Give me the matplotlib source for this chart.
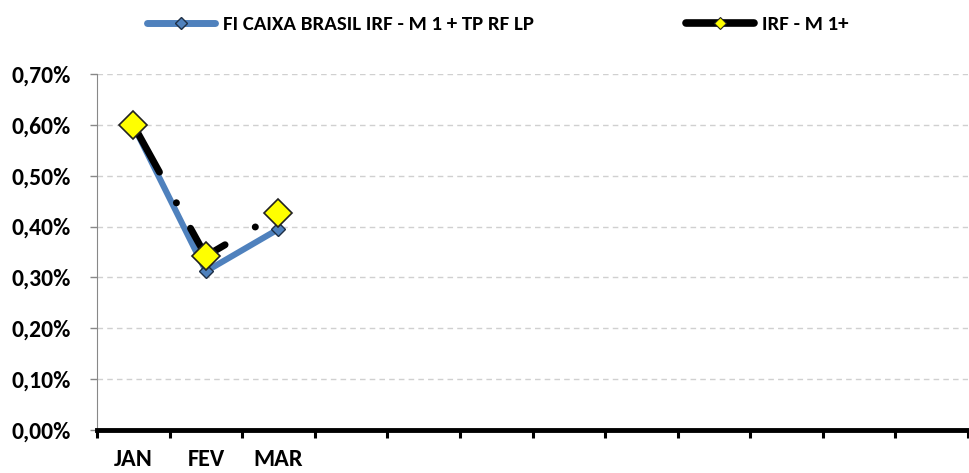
import matplotlib
matplotlib.use("Agg")
import matplotlib.pyplot as plt
from matplotlib.lines import Line2D
from matplotlib import font_manager
import numpy as np

_names = {f.name for f in font_manager.fontManager.ttflist}
_main = 'Carlito' if 'Carlito' in _names else 'Lato'
plt.rcParams['font.family'] = [_main, 'DejaVu Sans']
plt.rcParams['font.weight'] = 'bold'
plt.rcParams['lines.scale_dashes'] = False

months = ["JAN", "FEV", "MAR", "", "", "", "", "", "", "", "", ""]
fund_name = "FI CAIXA BRASIL IRF - M 1 + TP RF LP"
bench_name = "IRF - M 1+"
fund_values = [0.599, 0.312, 0.395]
bench_values = [0.600, 0.342, 0.426]
yticks = [0.0, 0.1, 0.2, 0.3, 0.4, 0.5, 0.6, 0.7]

fig = plt.figure(figsize=(9.70, 4.73), dpi=100)
ax = fig.add_axes([0.1, 0.0909, 0.898, 0.7527])

x_f = np.arange(len(fund_values))
x_b = np.arange(len(bench_values))

blue = "#4F81BD"
ax.plot(x_f, fund_values, color=blue, lw=4.4, solid_capstyle='round', solid_joinstyle='round', zorder=3)
ax.plot(x_f, fund_values, ls='none', marker='D', ms=7, mfc=blue, mec='#1f2f45', mew=1, zorder=4)

ax.plot(x_b, bench_values, color='black', lw=5, zorder=5,
        linestyle=(0, (38.9, 25.2, 0.1, 20.9)), dash_capstyle='round')
ax.plot(x_b, bench_values, ls='none', marker='D', ms=14, mfc='#FFFF00', mec='#222222', mew=1.2, zorder=6)

ax.set_xlim(-0.5, len(months) - 0.5)
ax.set_ylim(0, 0.7)
ax.set_yticks(yticks)
ax.set_yticklabels([f"{v:.2f}%".replace('.', ',') for v in yticks], fontsize=17, fontweight='bold')
ax.yaxis.grid(True, ls=(0, (4, 3)), color='#d0d0d0', lw=1)
ax.set_axisbelow(True)

ax.set_xticks(np.arange(len(months)))
ax.set_xticklabels(months, fontsize=17.5, fontweight='bold')
ax.tick_params(axis='x', which='major', length=0, pad=14)
ax.set_xticks(np.arange(-0.5, len(months)), minor=True)
ax.tick_params(axis='x', which='minor', length=6, width=2.2, color='black', direction='out')
ax.tick_params(axis='y', length=5, width=1, color='#888888', pad=14)

for s in ['top', 'right']:
    ax.spines[s].set_visible(False)
ax.spines['left'].set_color('#888888')
ax.spines['bottom'].set_color('black')
ax.spines['bottom'].set_linewidth(3.5)

h1 = Line2D([], [], color=blue, lw=5, marker='D', ms=6, mfc=blue, mec='#1f2f45', mew=1, solid_capstyle='round')
h2 = Line2D([], [], color='black', lw=5.5, marker='D', ms=6, mfc='#FFFF00', mec='#222222', mew=0.8, solid_capstyle='round')
fig.legend([h1, h2], [fund_name, bench_name], loc='upper left', bbox_to_anchor=(0.135, 1.0),
           ncol=2, frameon=False, prop={'weight': 'bold', 'size': 15},
           handlelength=3.3, handletextpad=0.35, columnspacing=7.3, borderaxespad=0.35)

fig.savefig("out.png", dpi=100)
